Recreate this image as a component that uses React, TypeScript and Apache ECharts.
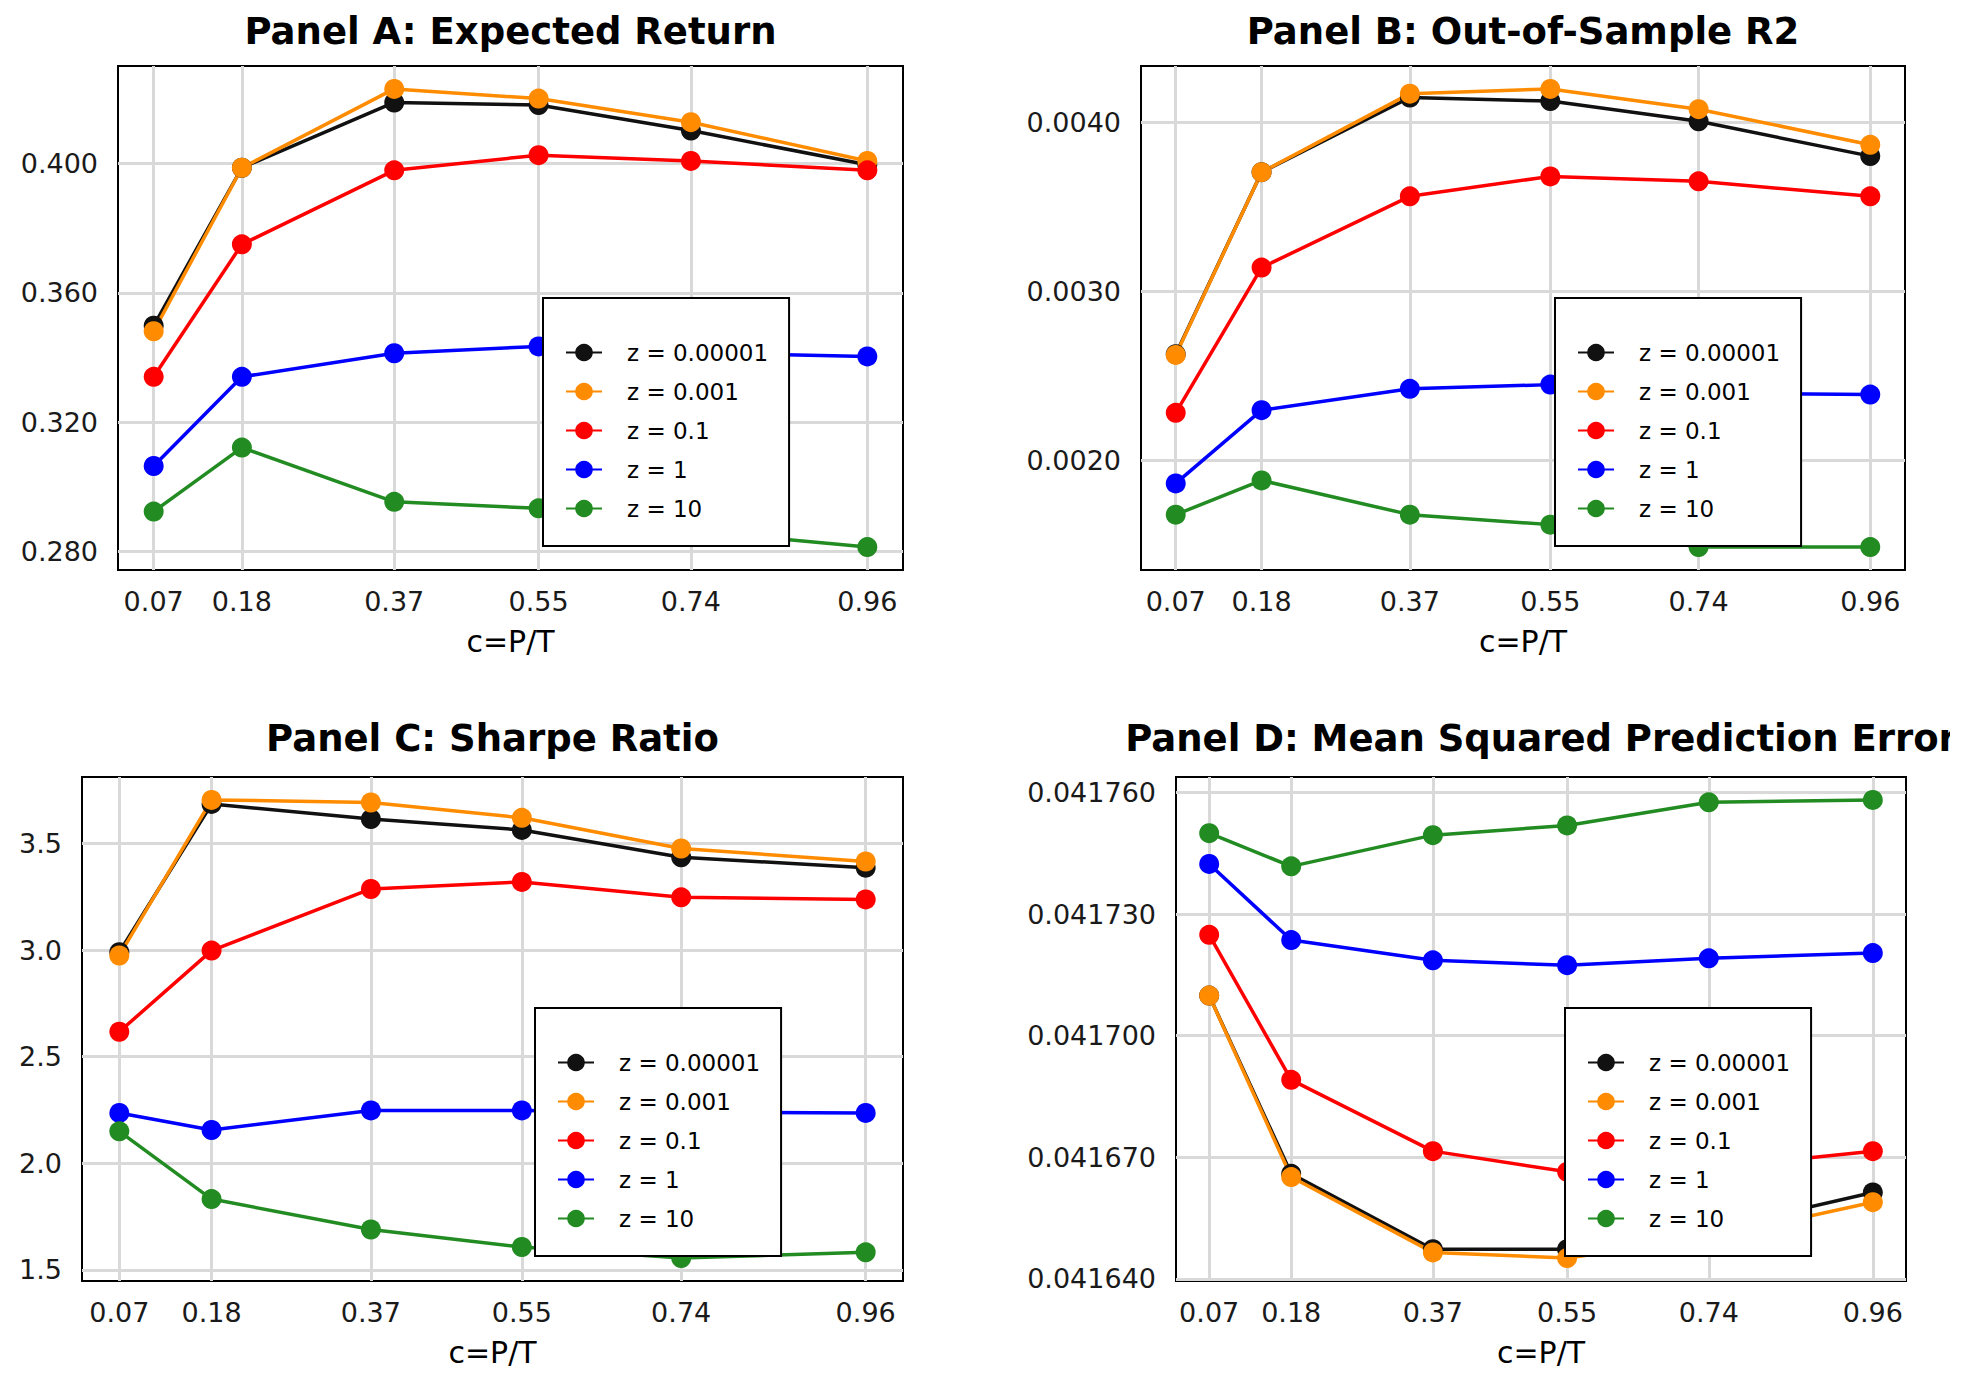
import React, { useEffect, useRef } from 'react';
import * as echarts from 'echarts';

// ---------- data ----------
const cValues = [0.07, 0.18, 0.37, 0.55, 0.74, 0.96];
const seriesNames = ['z = 0.00001', 'z = 0.001', 'z = 0.1', 'z = 1', 'z = 10'];
const seriesColors = ['#111111', '#FF8C00', '#FF0000', '#0000FF', '#228B22'];
const panelTitles = [
  'Panel A: Expected Return',
  'Panel B: Out-of-Sample R2',
  'Panel C: Sharpe Ratio',
  'Panel D: Mean Squared Prediction Error',
];
const xAxisName = 'c=P/T';

// Panel A: Expected Return
const returnZ00001 = [0.3498, 0.3987, 0.4189, 0.4181, 0.4102, 0.3996];
const returnZ0001 = [0.3481, 0.3987, 0.4231, 0.4201, 0.4128, 0.4008];
const returnZ01 = [0.334, 0.375, 0.3979, 0.4026, 0.4008, 0.3979];
const returnZ1 = [0.3064, 0.334, 0.3413, 0.3434, 0.3415, 0.3403];
const returnZ10 = [0.2923, 0.3121, 0.2953, 0.2933, 0.2864, 0.2813];
const returnTicks = [0.28, 0.32, 0.36, 0.4];

// Panel B: Out-of-sample R2
const r2Z00001 = [0.002629, 0.003707, 0.004149, 0.004128, 0.004008, 0.003802];
const r2Z0001 = [0.002625, 0.003707, 0.004172, 0.0042, 0.00408, 0.003869];
const r2Z01 = [0.002282, 0.003142, 0.003564, 0.003682, 0.003653, 0.003564];
const r2Z1 = [0.001864, 0.002298, 0.002424, 0.002449, 0.0024, 0.00239];
const r2Z10 = [0.001679, 0.001882, 0.001679, 0.00162, 0.001487, 0.001487];
const r2Ticks = [0.002, 0.003, 0.004];

// Panel C: Sharpe Ratio
const sharpeZ00001 = [2.99, 3.686, 3.615, 3.564, 3.436, 3.387];
const sharpeZ0001 = [2.975, 3.705, 3.693, 3.621, 3.477, 3.416];
const sharpeZ01 = [2.617, 2.998, 3.287, 3.32, 3.248, 3.238];
const sharpeZ1 = [2.236, 2.156, 2.248, 2.248, 2.24, 2.236];
const sharpeZ10 = [2.15, 1.832, 1.689, 1.607, 1.555, 1.582];
const sharpeTicks = [1.5, 2.0, 2.5, 3.0, 3.5];

// Panel D: MSPE
const mspeZ00001 = [0.0417099, 0.0416659, 0.0416473, 0.0416473, 0.041652, 0.0416613];
const mspeZ0001 = [0.0417099, 0.0416651, 0.0416465, 0.0416451, 0.04165, 0.0416589];
const mspeZ01 = [0.0417249, 0.0416891, 0.0416715, 0.0416664, 0.0416673, 0.0416715];
const mspeZ1 = [0.0417424, 0.0417236, 0.0417186, 0.0417174, 0.0417191, 0.0417204];
const mspeZ10 = [0.04175, 0.0417418, 0.0417495, 0.0417519, 0.0417576, 0.0417582];
const mspeTicks = [0.04164, 0.04167, 0.0417, 0.04173, 0.04176];

const panelSeries = [
  [returnZ00001, returnZ0001, returnZ01, returnZ1, returnZ10],
  [r2Z00001, r2Z0001, r2Z01, r2Z1, r2Z10],
  [sharpeZ00001, sharpeZ0001, sharpeZ01, sharpeZ1, sharpeZ10],
  [mspeZ00001, mspeZ0001, mspeZ01, mspeZ1, mspeZ10],
];
const panelTicks = [returnTicks, r2Ticks, sharpeTicks, mspeTicks];
const panelDecimals = [3, 4, 1, 6];

// ---------- layout ----------
const grids = [
  { left: 118, top: 66, width: 785, height: 504 },
  { left: 1141, top: 66, width: 764, height: 504 },
  { left: 82, top: 777, width: 821, height: 504 },
  { left: 1176, top: 777, width: 730, height: 504 },
];
const titleY = [31, 31, 738, 738];
const legendPos = [
  { left: 543, top: 298 },
  { left: 1555, top: 298 },
  { left: 535, top: 1008 },
  { left: 1565, top: 1008 },
];

const FONT = '"DejaVu Sans", sans-serif';

function expand(vals: number[]): [number, number] {
  const mn = Math.min(...vals);
  const mx = Math.max(...vals);
  const r = mx - mn;
  return [mn - 0.05 * r, mx + 0.05 * r];
}

export default function App() {
  const ref = useRef<HTMLDivElement>(null);
  useEffect(() => {
    if (!ref.current) return;
    const chart = echarts.init(ref.current, null, { renderer: 'svg' });
    const [xMin, xMax] = expand(cValues);

    const xAxis = grids.map((_, i) => ({
      type: 'value',
      gridIndex: i,
      min: xMin,
      max: xMax,
      axisLine: { show: false },
      axisTick: { show: false, customValues: cValues },
      axisLabel: {
        customValues: cValues,
        formatter: (v: number) => v.toFixed(2),
        fontFamily: FONT,
        fontSize: 27,
        color: '#1a1a1a',
        margin: 18,
      },
      splitLine: { show: true, lineStyle: { color: '#d9d9d9', width: 3 } },
      name: xAxisName,
      nameLocation: 'middle',
      nameGap: 56,
      nameTextStyle: { fontFamily: FONT, fontSize: 30, color: '#000' },
    }));

    const yAxis = grids.map((_, i) => {
      const all = panelSeries[i].flat();
      const [mn, mx] = expand(all);
      const dec = panelDecimals[i];
      return {
        type: 'value',
        gridIndex: i,
        min: mn,
        max: mx,
        axisLine: { show: false },
        axisTick: { show: false, customValues: panelTicks[i] },
        axisLabel: {
          customValues: panelTicks[i],
          formatter: (v: number) => v.toFixed(dec),
          fontFamily: FONT,
          fontSize: 27,
          color: '#1a1a1a',
          margin: 20,
        },
        splitLine: { show: true, lineStyle: { color: '#d9d9d9', width: 3 } },
      };
    });

    const series: any[] = [];
    panelSeries.forEach((panel, p) => {
      panel.forEach((vals, s) => {
        series.push({
          type: 'line',
          name: seriesNames[s],
          xAxisIndex: p,
          yAxisIndex: p,
          data: cValues.map((c, k) => [c, vals[k]]),
          symbol: 'circle',
          symbolSize: 20,
          lineStyle: { color: seriesColors[s], width: 3.5 },
          itemStyle: { color: seriesColors[s], borderWidth: 0 },
          emphasis: { disabled: true },
        });
      });
    });

    const legend = legendPos.map((pos) => ({
      data: seriesNames,
      orient: 'vertical',
      left: pos.left,
      top: pos.top,
      itemWidth: 36,
      itemHeight: 22,
      itemGap: 16,
      padding: [43, 21, 26, 22],
      backgroundColor: '#ffffff',
      borderColor: '#000000',
      borderWidth: 2,
      selectedMode: false,
      textStyle: { fontFamily: FONT, fontSize: 23, color: '#000', padding: [0, 0, 0, 20] },
    }));

    const graphic = panelTitles.map((t, i) => ({
      type: 'text',
      x: grids[i].left + grids[i].width / 2,
      y: titleY[i],
      style: {
        text: t,
        fill: '#000',
        font: `bold 37px ${FONT}`,
        align: 'center',
        verticalAlign: 'middle',
        textAlign: 'center',
        textVerticalAlign: 'middle',
      },
    }));

    chart.setOption({
      animation: false,
      backgroundColor: '#ffffff',
      grid: grids.map((g) => ({
        ...g,
        show: true,
        borderColor: '#000',
        borderWidth: 2,
        backgroundColor: 'transparent',
        containLabel: false,
      })),
      xAxis,
      yAxis,
      legend,
      series,
      graphic,
    } as any);
    return () => chart.dispose();
  }, []);
  return (
    <div
      ref={ref}
      style={{
        position: 'absolute',
        left: 0,
        top: 0,
        width: 1950,
        height: 1376,
        overflow: 'hidden',
        background: '#fff',
      }}
    />
  );
}
